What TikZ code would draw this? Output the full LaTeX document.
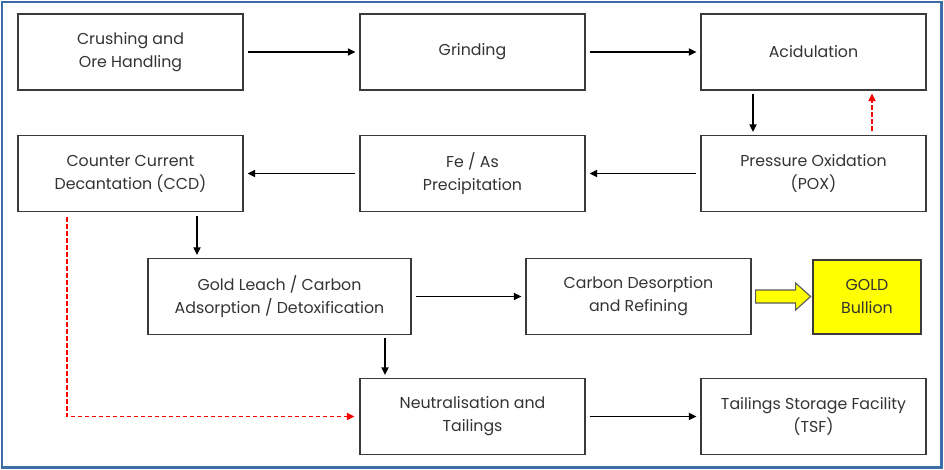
\documentclass[tikz,border=0pt]{standalone}
\usepackage{fontspec}
\setmainfont{Poppins}
\usetikzlibrary{arrows.meta,calc}
\definecolor{boxgray}{HTML}{3A3A3A}
\definecolor{textgray}{HTML}{333333}
\definecolor{frameblue}{HTML}{3D6DA6}
\definecolor{goldyel}{HTML}{FFFF00}
\begin{document}
\begin{tikzpicture}[x=1pt,y=-1pt,
  box/.style={draw=boxgray, line width=1.2pt, minimum width=225pt, minimum height=76pt,
    inner sep=0pt, align=center, text=textgray, font=\fontsize{15.8}{23}\selectfont},
  arr/.style={draw=black, line width=1.7pt, -{Triangle[length=7.5pt,width=7pt]}, shorten <=4pt, shorten >=4pt},
  redarr/.style={draw=red, line width=1.7pt, dash pattern=on 4.5pt off 2.5pt, -{Triangle[length=7.5pt,width=7pt]}},
  yarrow/.style={fill=goldyel, draw=black!65, line width=1.1pt, line join=miter}]
\useasboundingbox (0,0) rectangle (944,470);
\draw[frameblue, line width=2.2pt] (2,2) rectangle (941.5,467.5);

\node[box] (crush) at (130.5,52) {Crushing and\\Ore Handling};
\node[box] (grind) at (472.5,52) {Grinding};
\node[box] (acid)  at (813.5,52) {Acidulation};
\node[box] (pox)   at (813.5,173.5) {Pressure Oxidation\\(POX)};
\node[box] (feas)  at (472.5,173.5) {Fe / As\\Precipitation};
\node[box] (ccd)   at (130.5,173.5) {Counter Current\\Decantation (CCD)};
\node[box, minimum width=263pt] (leach) at (279.5,296.5) {Gold Leach / Carbon\\Adsorption / Detoxification};
\node[box] (carb)  at (638.5,296.5) {Carbon Desorption\\and Refining};
\node[box, minimum width=108pt, minimum height=74pt, fill=goldyel] (gold) at (867,297) {GOLD\\Bullion};
\node[box] (neut)  at (472.5,416.5) {Neutralisation and\\Tailings};
\node[box] (tsf)   at (813.5,416.5) {Tailings Storage Facility\\(TSF)};

\draw[arr] (crush) -- (grind);
\draw[arr] (grind) -- (acid);
\draw[arr] (pox) -- (feas);
\draw[arr] (feas) -- (ccd);
\draw[arr] (leach.east) -- (carb.west);
\draw[arr] (neut) -- (tsf);

\coordinate (a1) at ([xshift=-60.5pt]acid.south);
\draw[arr, shorten <=3pt, shorten >=3pt] (a1) -- (a1 |- pox.north);
\coordinate (r1) at ([xshift=58.5pt]pox.north);
\draw[redarr, shorten <=4pt, shorten >=3pt] (r1) -- (r1 |- acid.south);
\coordinate (c1) at ([xshift=66.5pt]ccd.south);
\draw[arr, shorten <=4pt, shorten >=3pt] (c1) -- (c1 |- leach.north);
\coordinate (l1) at ([xshift=105.5pt]leach.south);
\draw[arr, shorten <=3pt, shorten >=3pt] (l1) -- (l1 |- neut.north);
\coordinate (c2) at ([xshift=-63.5pt]ccd.south);
\draw[redarr, shorten <=5pt, shorten >=5pt] (c2) |- (neut.west);

\coordinate (y0) at ([xshift=4pt]carb.east);
\draw[yarrow] (y0) ++(0,-6.5) -- ++(40,0) -- ++(0,-7) -- ++(15,13.5) -- ++(-15,13.5) -- ++(0,-7) -- ++(-40,0) -- cycle;
\end{tikzpicture}
\end{document}
